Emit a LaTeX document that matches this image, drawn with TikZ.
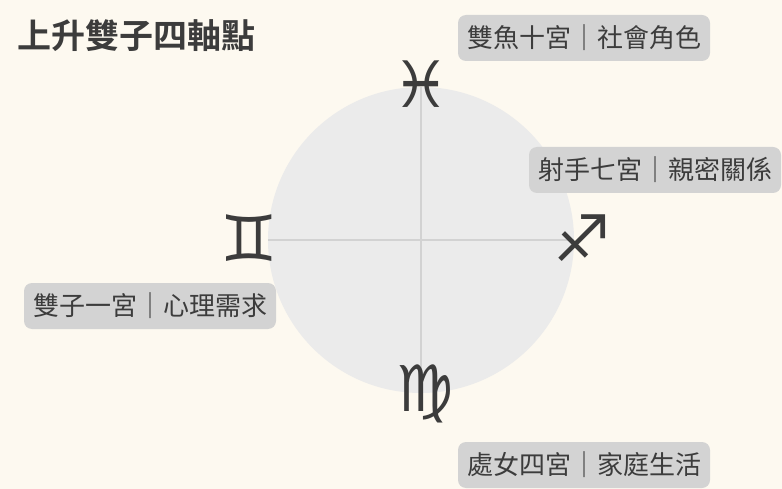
\documentclass[tikz,border=0pt]{standalone}
\usepackage{fontspec}
\newfontfamily\cjk{Noto Sans CJK TC}
\newfontfamily\cjkb{Noto Sans CJK TC Bold}
\newfontfamily\sym{DejaVu Sans}
\definecolor{bg}{HTML}{FDF9F0}
\definecolor{disc}{HTML}{EBEBEB}
\definecolor{axis}{HTML}{D2D2D2}
\definecolor{tag}{HTML}{D3D3D3}
\definecolor{ink}{HTML}{3C3C3C}
\tikzset{
 lbl/.style={fill=tag,rounded corners=8pt,minimum height=46pt,inner xsep=9pt,text=ink,font=\cjk\fontsize{26pt}{28pt}\selectfont},
 zsym/.style={text=ink,font=\sym\fontsize{64pt}{66pt}\selectfont,inner sep=0pt}
}
\begin{document}
\begin{tikzpicture}[x=1pt,y=-1pt]
\fill[bg] (0,0) rectangle (782,489);
\useasboundingbox (0,0) rectangle (782,489);
\node[circle,fill=disc,minimum size=306pt,inner sep=0pt] (c) at (421,240) {};
\draw[axis,line width=1.5pt] (c.west) -- (c.east);
\draw[axis,line width=1.5pt] (c.north) -- (c.south);
\node[anchor=west,text=ink,font=\cjkb\fontsize{34pt}{36pt}\selectfont,inner sep=0pt] (t) at (17,36) {上升雙子四軸點};
\node[zsym] (pi) at (421,84) {♓};
\node[zsym] (ge) at (249,238) {♊};
\node[zsym] (sa) at (582,238) {♐};
\node[zsym] (vi) at (425,394) {♍};
\node[lbl] (l1) at (584,38) {雙魚十宮｜社會角色};
\node[lbl] (l2) at (655,170) {射手七宮｜親密關係};
\node[lbl] (l3) at (150,306) {雙子一宮｜心理需求};
\node[lbl] (l4) at (584,465) {處女四宮｜家庭生活};
\end{tikzpicture}
\end{document}
